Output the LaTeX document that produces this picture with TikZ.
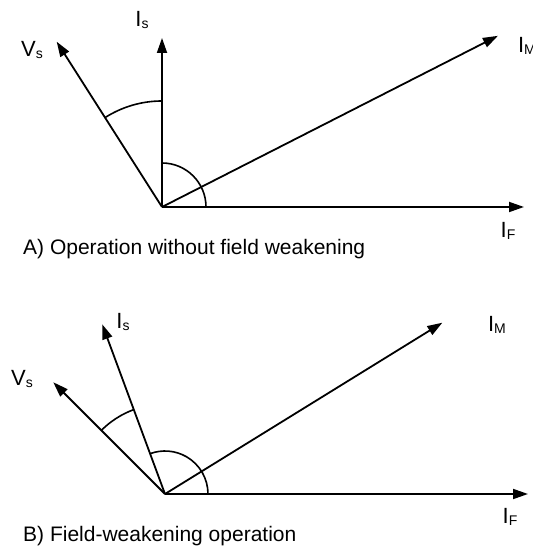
\documentclass[tikz,border=0pt]{standalone}
\usepackage{fontspec}
\setmainfont{Liberation Sans}
\usetikzlibrary{arrows.meta}
\newcommand{\vsub}[2]{#1\raisebox{-2pt}{\fontsize{14}{14}\selectfont #2}}

\begin{document}
\begin{tikzpicture}[x=1pt, y=1pt, line join=round, >={Triangle[length=15pt,width=10pt]},
	vec/.style={->, line width=1.8pt},
	anglearc/.style={line width=1.6pt},
	lbl/.style={font=\fontsize{22}{22}\selectfont, inner sep=0pt},
	caption/.style={font=\fontsize{21}{21}\selectfont, anchor=west, inner sep=0pt}]
	
	\useasboundingbox (0,0) rectangle (532,553);
	
	% A) without field weakening
	\def\angVA{122.5}
	\def\angMA{27}
	\coordinate (OA) at (162,346);
	\path (OA) ++(90:169) coordinate (IsA);
	\path (OA) ++(\angVA:196) coordinate (VsA);
	\path (OA) ++(\angMA:377) coordinate (IMA);
	\path (OA) ++(0:362) coordinate (IFA);
	
	\draw[vec] (OA) -- (IsA);
	\draw[vec] (OA) -- (VsA);
	\draw[vec] (OA) -- (IMA);
	\draw[vec] (OA) -- (IFA);
	\draw[anglearc] (OA) ++(90:106) arc[start angle=90, end angle=\angVA, radius=106];
	\draw[anglearc] (OA) ++(0:44) arc[start angle=0, end angle=90, radius=44];
	
	\node[lbl] (lIsA) at (142,533) {\vsub{I}{s}};
	\node[lbl] (lVsA) at (32,503) {\vsub{V}{s}};
	\node[lbl] (lIMA) at (527,507) {\vsub{I}{M}};
	\node[lbl] (lIFA) at (508,322) {\vsub{I}{F}};
	\node[caption] (capA) at (23,304) {A) Operation without field weakening};
	
	% B) field weakening
	\def\angIB{110.3}
	\def\angVB{135}
	\def\angMB{31.7}
	\coordinate (OB) at (165,59);
	\path (OB) ++(\angIB:181) coordinate (IsB);
	\path (OB) ++(\angVB:158) coordinate (VsB);
	\path (OB) ++(\angMB:326) coordinate (IMB);
	\path (OB) ++(0:363) coordinate (IFB);
	
	\draw[vec] (OB) -- (IsB);
	\draw[vec] (OB) -- (VsB);
	\draw[vec] (OB) -- (IMB);
	\draw[vec] (OB) -- (IFB);
	\draw[anglearc] (OB) ++(\angIB:90) arc[start angle=\angIB, end angle=\angVB, radius=90];
	\draw[anglearc] (OB) ++(0:43) arc[start angle=0, end angle=\angIB, radius=43];
	
	\node[lbl] (lIsB) at (123,231) {\vsub{I}{s}};
	\node[lbl] (lVsB) at (22,174) {\vsub{V}{s}};
	\node[lbl] (lIMB) at (497,228) {\vsub{I}{M}};
	\node[lbl] (lIFB) at (510,36) {\vsub{I}{F}};
	\node[caption] (capB) at (23,17) {B) Field-weakening operation};
\end{tikzpicture}
\end{document}
